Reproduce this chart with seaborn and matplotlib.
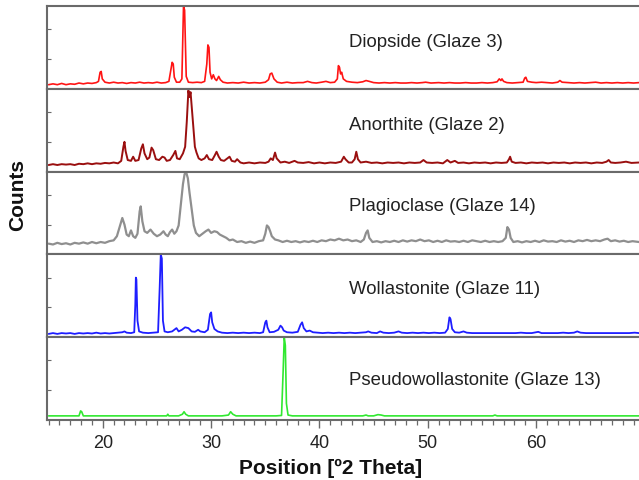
import matplotlib
matplotlib.use("Agg")
import matplotlib.pyplot as plt
from matplotlib.ticker import MultipleLocator
import seaborn as sns
import pandas as pd

# ---- data: (2theta, relative counts in % of panel height) ----
diopside = [(15.0,5),(15.4,6),(15.8,5),(16.2,6.5),(16.6,5),(17.0,6),(17.4,5.5),(17.8,7),(18.2,6),(18.6,7),
    (19.0,6.5),(19.4,7.5),(19.6,9),(19.75,20),(19.85,21),(19.95,12),(20.2,8),(20.6,7),(21.0,8),(21.4,7),
    (21.8,7.5),(22.2,6.5),(22.6,7.5),(23.0,7),(23.4,8),(23.8,7),(24.2,7.5),(24.6,7),(25.0,8),(25.4,7),
    (25.8,7.5),(26.1,9),(26.3,24),(26.4,32),(26.5,30),(26.6,14),(26.8,8),(27.1,8),(27.3,12),(27.45,100),
    (27.55,95),(27.7,15),(27.9,8),(28.3,7.5),(28.7,8),(29.1,7.5),(29.4,9),(29.6,30),(29.7,53),(29.8,50),
    (29.9,20),(30.05,12),(30.2,17),(30.35,12),(30.5,10),(30.7,15),(30.85,11),(31.1,8),(31.5,7),(32.0,7.5),
    (32.5,7),(33.0,8),(33.5,7),(34.0,7.5),(34.5,7),(35.0,8),(35.3,11),(35.45,18),(35.6,19),(35.8,12),
    (36.1,8),(36.5,7),(37.0,8),(37.5,7),(38.0,7.5),(38.5,7.5),(38.9,9),(39.3,7.5),(39.7,7),(40.2,8),
    (40.6,9),(41.0,7.5),(41.4,8),(41.65,12),(41.75,28),(41.85,26),(41.95,18),(42.05,20),(42.2,12),(42.5,9),
    (43.0,8),(43.5,7.5),(44.0,8.5),(44.3,10),(44.6,9),(45.0,7.5),(45.5,7),(46.0,7.5),(46.5,7),(47.0,7.5),
    (47.5,7),(48.0,7),(48.5,7.5),(49.0,7),(49.5,7.5),(49.8,8),(50.3,7),(51.0,7.5),(51.5,7),(52.0,7.5),
    (52.5,7),(53.0,7),(53.5,7.5),(54.0,7),(54.5,7),(55.0,7.5),(55.5,7),(56.0,7.5),(56.4,8.5),(56.6,12),
    (56.75,10),(56.85,12),(57.0,9),(57.3,7.5),(57.8,7),(58.3,7.5),(58.8,8),(58.95,13),(59.05,14),(59.2,9),
    (59.6,8),(60.0,7.5),(60.5,8),(61.0,7.5),(61.5,7),(62.0,8),(62.2,10),(62.4,8),(63.0,7.5),(63.5,7),
    (64.0,7.5),(64.5,7),(65.0,7.5),(65.5,8),(66.0,7),(66.5,7.5),(67.0,7),(67.5,7.5),(68.0,7),(68.5,7.5),
    (69.0,7),(69.5,7.5)]

anorthite = [(15.0,8),(15.4,9),(15.8,8),(16.2,9),(16.6,8.5),(17.0,9),(17.4,8),(17.8,9.5),(18.2,9),(18.6,10),
    (19.0,9),(19.4,10),(19.8,9.5),(20.2,10.5),(20.6,10),(21.0,11),(21.4,10),(21.7,13),(21.9,30),(22.0,36),
    (22.1,25),(22.3,14),(22.6,13),(22.8,18),(23.0,13),(23.3,14),(23.55,28),(23.7,33),(23.85,22),(24.1,15),
    (24.3,17),(24.5,29),(24.65,26),(24.9,15),(25.2,14),(25.5,18),(25.7,17),(25.9,13),(26.2,14),(26.5,20),
    (26.7,25),(26.85,16),(27.1,15),(27.4,22),(27.6,30),(27.75,60),(27.9,98),(28.0,90),(28.1,96),(28.2,80),
    (28.35,55),(28.5,30),(28.65,23),(28.85,16),(29.1,14),(29.4,16),(29.6,20),(29.8,15),(30.1,14),(30.35,20),
    (30.5,24),(30.7,18),(30.9,14),(31.2,13),(31.5,16),(31.7,18),(31.9,13),(32.2,12),(32.4,15),(32.7,11),
    (33.0,10),(33.5,11),(34.0,10),(34.5,11),(35.0,10.5),(35.3,12),(35.5,16),(35.7,14),(35.9,23),(36.05,16),
    (36.4,11),(36.8,12),(37.2,10.5),(37.7,13),(38.0,11),(38.5,10.5),(39.0,11.5),(39.5,10),(40.0,11),(40.5,10),
    (41.0,11),(41.5,10.5),(42.0,12),(42.25,18),(42.4,15),(42.7,11),(43.0,11),(43.25,15),(43.4,24),(43.55,15),
    (43.8,11),(44.3,12),(44.8,10.5),(45.3,11),(45.8,10),(46.3,11),(46.8,10.5),(47.3,11),(47.8,10),(48.3,11),
    (48.8,10.5),(49.3,11),(49.6,14),(49.9,11),(50.4,10.5),(50.9,11),(51.4,10),(51.8,14),(52.1,11),(52.5,13),
    (52.8,10.5),(53.3,11),(53.8,10),(54.3,11),(54.8,10.5),(55.3,11),(55.8,10),(56.3,11),(56.8,10.5),(57.3,11),
    (57.5,15),(57.6,18),(57.75,12),(58.1,10.5),(58.6,11),(59.1,10),(59.6,11),(60.1,10.5),(60.6,11),(61.1,10),
    (61.6,11),(62.1,10.5),(62.6,11),(63.1,10),(63.6,11),(64.1,10.5),(64.6,11),(65.1,10),(65.6,11),(66.1,10.5),
    (66.5,12),(66.7,14),(66.9,11),(67.3,10.5),(67.8,11),(68.3,12),(68.8,10.5),(69.5,11)]

plagioclase = [(15.0,13),(15.4,12),(15.8,14),(16.2,12.5),(16.6,13.5),(17.0,12),(17.4,14),(17.8,13),(18.2,14.5),
    (18.6,13),(19.0,15),(19.4,13.5),(19.8,15),(20.2,14),(20.6,16),(21.0,17),(21.3,22),(21.6,35),(21.8,44),
    (22.0,36),(22.2,24),(22.4,22),(22.6,29),(22.8,22),(23.0,20),(23.2,25),(23.4,52),(23.5,58),(23.65,40),
    (23.85,28),(24.1,26),(24.4,30),(24.7,25),(25.0,22),(25.3,24),(25.6,28),(25.8,24),(26.0,22),(26.2,27),
    (26.4,30),(26.6,25),(26.8,28),(27.0,35),(27.2,60),(27.4,85),(27.55,97),(27.7,99),(27.85,92),(28.0,75),
    (28.2,55),(28.4,35),(28.6,26),(28.9,22),(29.2,25),(29.5,28),(29.75,30),(30.0,26),(30.3,28),(30.55,27),
    (30.8,24),(31.1,22),(31.4,20),(31.7,17),(32.0,18),(32.4,15),(32.8,16),(33.2,14),(33.6,15.5),(34.0,14),
    (34.4,16),(34.8,17),(35.0,25),(35.15,35),(35.3,33),(35.45,28),(35.6,22),(35.9,18),(36.2,17),(36.6,15),
    (37.0,16.5),(37.4,15),(37.8,16),(38.2,14.5),(38.6,16),(39.0,15),(39.4,16.5),(39.8,15),(40.2,17),(40.6,16),
    (41.0,18),(41.4,17),(41.8,19),(42.2,17),(42.6,18),(43.0,16),(43.4,17),(43.8,15),(44.1,18),(44.3,26),
    (44.45,29),(44.6,20),(44.9,15),(45.3,16),(45.7,14.5),(46.1,16),(46.5,15),(46.9,16.5),(47.3,15),(47.7,17),
    (48.1,15.5),(48.5,17),(48.9,16),(49.3,18),(49.7,16),(50.1,17),(50.5,15),(50.9,16.5),(51.3,15),(51.7,17),
    (52.1,15.5),(52.5,16),(52.9,15),(53.3,16.5),(53.7,15),(54.1,17),(54.5,16),(54.9,15),(55.3,16.5),(55.7,15),
    (56.1,16),(56.5,15),(56.9,16),(57.2,20),(57.35,33),(57.5,30),(57.65,20),(57.9,15),(58.3,16),(58.7,14.5),
    (59.1,16),(59.5,15),(59.9,16.5),(60.3,15),(60.7,17),(61.1,15.5),(61.5,16),(61.9,15),(62.3,17),(62.7,15.5),
    (63.1,16.5),(63.5,15),(63.9,17),(64.3,16),(64.7,17.5),(65.1,16),(65.5,17),(65.9,16),(66.3,18),(66.6,19),
    (66.9,16),(67.3,17),(67.7,15.5),(68.1,16.5),(68.5,15),(68.9,16),(69.5,15)]

wollastonite = [(15.0,4),(15.4,5),(15.8,4),(16.2,5),(16.6,4.5),(17.0,5),(17.4,4),(17.8,5),(18.2,4.5),(18.6,5),
    (19.0,4.5),(19.4,5.5),(19.8,4.5),(20.2,5),(20.6,4.5),(21.0,5),(21.4,5.5),(21.8,6),(22.0,7),(22.2,5.5),
    (22.6,5),(22.9,6),(23.0,40),(23.05,72),(23.1,70),(23.2,20),(23.35,7),(23.7,5.5),(24.2,5),(24.7,5.5),
    (25.1,6),(25.25,60),(25.35,100),(25.45,95),(25.55,20),(25.7,7),(26.0,6),(26.4,7),(26.6,9),(26.8,11),
    (27.0,7),(27.3,9),(27.6,12),(27.9,11),(28.2,7),(28.5,6.5),(28.8,9),(29.0,7),(29.4,6),(29.7,9),
    (29.9,28),(30.0,30),(30.1,18),(30.3,10),(30.6,7),(31.0,5.5),(31.5,5),(32.0,5.5),(32.5,5),(33.0,5.5),
    (33.5,5),(34.0,5.5),(34.5,5),(34.8,6),(35.0,18),(35.1,20),(35.2,12),(35.4,6),(35.8,6.5),(36.2,9),
    (36.4,14),(36.55,12),(36.7,8),(37.0,6),(37.5,5.5),(38.0,6.5),(38.25,15),(38.4,18),(38.55,11),(38.8,7),
    (39.1,8),(39.4,6),(39.8,5.5),(40.3,5),(40.8,5.5),(41.3,5),(41.8,5.5),(42.3,5),(42.8,5.5),(43.3,5),
    (43.8,5.5),(44.3,6),(44.5,7),(44.8,5.5),(45.3,5),(45.6,7),(45.9,5.5),(46.4,5),(46.9,5.5),(47.3,7),
    (47.6,5.5),(48.1,5),(48.6,5.5),(49.1,5),(49.6,5.5),(50.1,5),(50.6,5.5),(51.1,5),(51.6,5.5),(51.85,10),
    (52.0,24),(52.1,22),(52.25,10),(52.5,6),(52.9,5.5),(53.3,7),(53.6,5.5),(54.1,5),(54.6,5),(55.1,5),
    (55.6,5),(56.1,5),(56.6,5),(57.1,5),(57.6,5),(58.1,5),(58.6,5.5),(59.1,5),(59.6,5),(60.2,6.5),
    (60.5,5),(61.0,5),(61.5,5),(62.0,5),(62.5,5.5),(63.0,5),(63.5,5.5),(63.8,7),(64.1,5.5),(64.6,5),
    (65.1,5),(65.6,5),(66.1,5),(66.6,5),(67.1,5),(67.6,5),(68.1,5),(68.6,5),(69.1,5.5),(69.5,5)]

pseudowollastonite = [(15.0,5),(16.0,5),(17.0,5),(17.8,5),(17.95,11),(18.05,10),(18.2,5),(19.0,5),(20.0,5),
    (21.0,5),(22.0,5),(23.0,5),(24.0,5),(25.0,5),(25.9,5),(26.0,7),(26.1,5),(27.0,5),(27.35,7),(27.5,10),
    (27.65,7),(27.9,5),(29.0,5),(30.0,5),(31.0,5),(31.6,6),(31.8,10),(32.0,7),(32.3,5),(33.0,5),(34.0,5),
    (35.0,5),(36.0,5),(36.5,5.5),(36.65,60),(36.75,100),(36.85,90),(36.95,20),(37.1,6),(37.5,5),(38.0,5),
    (39.0,5),(40.0,5),(41.0,5),(42.0,5),(43.0,5),(44.0,5),(44.3,6),(44.5,5),(45.0,5),(45.4,6.5),(45.7,6),
    (46.0,5),(47.0,5),(48.0,5),(49.0,5),(50.0,5),(51.0,5),(52.0,5),(53.0,5),(54.0,5),(55.0,5),(56.0,5),
    (56.2,6),(56.4,5),(57.0,5),(58.0,5),(59.0,5),(60.0,5),(61.0,5),(62.0,5),(63.0,5),(64.0,5),(65.0,5),
    (66.0,5),(67.0,5),(68.0,5),(69.0,5),(69.5,5)]

labels = ["Diopside (Glaze 3)", "Anorthite (Glaze 2)", "Plagioclase (Glaze 14)",
          "Wollastonite (Glaze 11)", "Pseudowollastonite (Glaze 13)"]
series = [diopside, anorthite, plagioclase, wollastonite, pseudowollastonite]
colors = ["#ff1414", "#9a0f0f", "#8f8f8f", "#1e1eff", "#30e830"]
line_widths = [1.2, 1.4, 1.6, 1.3, 1.2]
label_y = [0.57, 0.57, 0.585, 0.585, 0.49]
x_ticks = [20, 30, 40, 50, 60]

# ---- figure ----
sns.set_style("ticks")
plt.rcParams["font.family"] = ["Liberation Sans", "DejaVu Sans"]

fig, axes = plt.subplots(5, 1, figsize=(6.39, 4.81), dpi=100, sharex=True,
                         gridspec_kw=dict(hspace=0))
fig.subplots_adjust(left=0.0736, right=1.0, top=0.9854, bottom=0.1247)

spine_col = "#6a6a6a"
for i, ax in enumerate(axes):
    df = pd.DataFrame(series[i], columns=["two_theta", "counts"])
    sns.lineplot(data=df, x="two_theta", y="counts", color=colors[i], lw=line_widths[i],
                 estimator=None, sort=True, ax=ax)
    ax.set_ylim(0, 100)
    ax.set_xlim(14.85, 69.5)
    ax.set_xlabel("")
    ax.set_ylabel("")
    for s in ["left", "top", "bottom"]:
        ax.spines[s].set_color(spine_col)
        ax.spines[s].set_linewidth(1.5)
    ax.spines["right"].set_visible(False)
    ax.set_yticks([36, 72])
    ax.set_yticklabels([])
    ax.tick_params(axis="y", direction="in", length=3, width=0.8, color=spine_col)
    ax.text(42.7, label_y[i], labels[i], transform=ax.get_xaxis_transform(),
            ha="left", va="center", fontsize=13.4, color="#222222")
    if i < 4:
        ax.tick_params(axis="x", which="both", bottom=False, labelbottom=False)

ax = axes[-1]
ax.set_xticks(x_ticks)
ax.xaxis.set_minor_locator(MultipleLocator(1))
ax.tick_params(axis="x", which="major", direction="out", length=6, width=1.0,
               color=spine_col, labelsize=13, labelcolor="#222222", pad=4)
ax.tick_params(axis="x", which="minor", direction="out", length=3.5, width=0.9,
               color=spine_col)

fig.text(0.518, 0.027, "Position [º2 Theta]", ha="center", va="center",
         fontsize=15, fontweight="bold", color="#111111")
fig.text(0.028, 0.595, "Counts", ha="center", va="center", rotation=90,
         fontsize=15, fontweight="bold", color="#111111")

fig.savefig("out.png", dpi=100)
